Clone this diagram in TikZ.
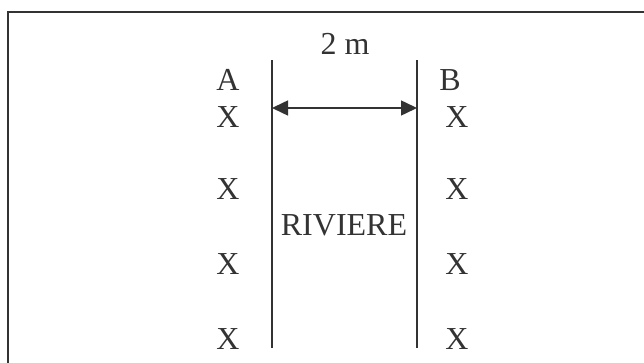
\documentclass[tikz,border=0pt]{standalone}
\usepackage{fontspec}
\setmainfont{Liberation Serif}
\usetikzlibrary{arrows.meta}
\definecolor{ink}{HTML}{333333}
\begin{document}
\begin{tikzpicture}[x=1pt, y=-1pt, >={Triangle[length=16pt,width=15pt]}, line width=1.5pt, draw=ink,
  lbl/.style={text=ink, inner sep=0pt, font=\fontsize{32}{38}\selectfont}]
\useasboundingbox (0,0) rectangle (644,363);
\draw[line width=2.2pt] (8,363) -- (8,12) -- (644,12);

% banks of the river
\coordinate (lt) at (272,60);
\coordinate (lb) at (272,348);
\coordinate (rt) at (417,60);
\coordinate (rb) at (417,348);
\coordinate (la) at (272,108);
\coordinate (ra) at (417,108);
\draw (lt) -- (lb);
\draw (rt) -- (rb);
\draw[<->] (la) -- (ra);

\node[lbl] (w) at (345,44){2 m};
\node[lbl] (riv) at (344,225){RIVIERE};
\node[lbl] (a) at (228,80){A};
\node[lbl] (b) at (450,80){B};

\foreach \y [count=\i] in {117,189,264,339}{
  \node[lbl] (xa\i) at (228,\y){X};
  \node[lbl] (xb\i) at (457,\y){X};
}
\end{tikzpicture}
\end{document}
